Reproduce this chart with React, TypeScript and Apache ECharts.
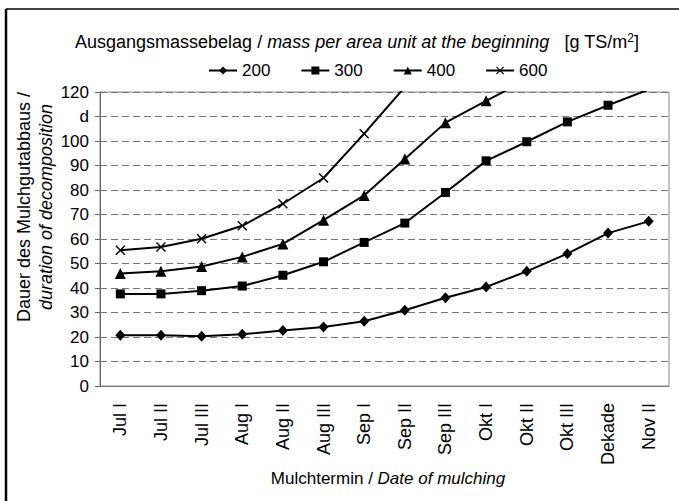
import React, { useEffect, useRef } from 'react';
import * as echarts from 'echarts';

const categories = ['Jul I', 'Jul II', 'Jul III', 'Aug I', 'Aug II', 'Aug III', 'Sep I', 'Sep II', 'Sep III', 'Okt I', 'Okt II', 'Okt III', 'Dekade', 'Nov II'];
const s200 = [20.7, 20.7, 20.3, 21.1, 22.7, 24.1, 26.4, 30.9, 36.0, 40.4, 46.8, 54.0, 62.4, 67.2];
const s300 = [37.6, 37.6, 38.9, 40.8, 45.2, 50.7, 58.6, 66.5, 79.0, 91.9, 99.7, 107.8, 114.6, 121.0];
const s400 = [45.9, 46.8, 48.8, 52.7, 58.0, 67.7, 77.8, 92.7, 107.5, 116.4, 125.0, null, null, null];
const s600 = [55.4, 56.7, 60.1, 65.4, 74.4, 84.9, 103.0, 122.0, null, null, null, null, null, null];
const seriesNames = ['200', '300', '400', '600'];

const FONT = '"Liberation Sans", Arial, sans-serif';
const X_SYMBOL = 'path://M0,1L1,0L5,4L9,0L10,1L6,5L10,9L9,10L5,6L1,10L0,9L4,5Z';

export default function App() {
  const ref = useRef<HTMLDivElement>(null);
  useEffect(() => {
    if (!ref.current) return;
    const chart = echarts.init(ref.current, undefined, { renderer: 'svg' });
    const mk = (name: string, data: (number | null)[], symbol: string, size: number | number[]) => ({
      name,
      type: 'line',
      data,
      symbol,
      symbolSize: size,
      showAllSymbol: true,
      clip: true,
      lineStyle: { color: '#000', width: 2 },
      itemStyle: { color: '#000' },
      emphasis: { disabled: true },
    });
    chart.setOption({
      animation: false,
      backgroundColor: '#fff',
      textStyle: { fontFamily: FONT },
      legend: {
        top: 57,
        left: 203,
        itemWidth: 28,
        itemHeight: 10,
        itemGap: 30,
        data: seriesNames,
        textStyle: { fontSize: 17, color: '#000', fontFamily: FONT },
        selectedMode: false,
      },
      grid: { left: 100, right: 10, top: 92, bottom: 115, show: true, borderColor: '#888', borderWidth: 1 },
      xAxis: {
        type: 'category',
        data: categories,
        boundaryGap: true,
        axisLine: { lineStyle: { color: '#777', width: 1 } },
        axisTick: { inside: true, length: 5, lineStyle: { color: '#777' } },
        axisLabel: { rotate: 90, margin: 17, fontSize: 18, color: '#000', fontFamily: FONT, interval: 0 },
        splitLine: { show: false },
      },
      yAxis: {
        type: 'value',
        min: 0,
        max: 120,
        interval: 10,
        axisLine: { show: true, lineStyle: { color: '#666', width: 1 } },
        axisTick: { show: true, length: 5, lineStyle: { color: '#666' } },
        axisLabel: {
          fontSize: 17,
          color: '#000',
          margin: 11,
          fontFamily: FONT,
          formatter: (v: number) => (v === 110 ? 'd' : String(v)),
        },
        splitLine: { show: true, lineStyle: { color: '#777', type: [7, 4], width: 1 } },
      },
      graphic: [
        { type: 'line', shape: { x1: 6, y1: 9, x2: 6, y2: 501 }, style: { stroke: '#000', lineWidth: 2.5 } },
        { type: 'line', shape: { x1: 6, y1: 9, x2: 679, y2: 9 }, style: { stroke: '#000', lineWidth: 1.5 } },
        {
          type: 'text',
          x: 357,
          y: 42,
          style: {
            text: '{n|Ausgangsmassebelag / }{i|mass per area unit at the beginning}{n|   [g TS/m}{s|2}{n|]}',
            align: 'center',
            verticalAlign: 'middle',
            rich: {
              n: { fontSize: 18, fontFamily: FONT, fill: '#000' },
              i: { fontSize: 18, fontFamily: FONT, fontStyle: 'italic', fill: '#000' },
              s: { fontSize: 12, fontFamily: FONT, fill: '#000', verticalAlign: 'top', padding: [0, 0, 8, 0] },
            },
          },
        },
        {
          type: 'text',
          x: 24,
          y: 207,
          rotation: Math.PI / 2,
          style: {
            text: 'Dauer des Mulchgutabbaus /',
            align: 'center',
            verticalAlign: 'middle',
            fontSize: 18,
            fontFamily: FONT,
            fill: '#000',
          },
        },
        {
          type: 'text',
          x: 46,
          y: 207,
          rotation: Math.PI / 2,
          style: {
            text: 'duration of decomposition',
            align: 'center',
            verticalAlign: 'middle',
            fontSize: 18,
            fontStyle: 'italic',
            fontFamily: FONT,
            fill: '#000',
          },
        },
        {
          type: 'text',
          x: 388,
          y: 478,
          style: {
            text: '{n|Mulchtermin / }{i|Date of mulching}',
            align: 'center',
            verticalAlign: 'middle',
            rich: {
              n: { fontSize: 17, fontFamily: FONT, fill: '#000' },
              i: { fontSize: 17, fontFamily: FONT, fontStyle: 'italic', fill: '#000' },
            },
          },
        },
      ],
      series: [
        mk(seriesNames[0], s200, 'diamond', [10, 11]),
        mk(seriesNames[1], s300, 'rect', 9),
        mk(seriesNames[2], s400, 'triangle', 11),
        mk(seriesNames[3], s600, X_SYMBOL, 10),
      ],
    });
    return () => chart.dispose();
  }, []);
  return <div ref={ref} style={{ width: 679, height: 501, position: 'absolute', left: 0, top: 0 }} />;
}
